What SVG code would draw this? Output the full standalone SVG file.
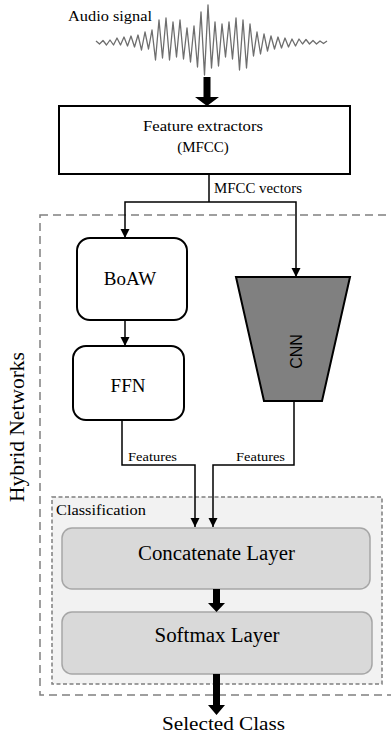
<svg xmlns="http://www.w3.org/2000/svg" width="391" height="735" viewBox="0 0 391 735">
<style>
.serif{font-family:"Liberation Serif","Times New Roman",serif;fill:#000}
.sans{font-family:"Liberation Sans",Arial,sans-serif;fill:#000}
.box{fill:#fff;stroke:#000;stroke-width:2}
.layer{fill:#d9d9d9;stroke:#a6a6a6;stroke-width:1.5}
.conn{fill:none;stroke:#000;stroke-width:1.5}
.thick{fill:#000}
</style>
<defs>
<marker id="ah" viewBox="0 0 10 10" refX="10" refY="5" markerWidth="9" markerHeight="10" markerUnits="userSpaceOnUse" orient="auto">
<path d="M0,0 L10,5 L0,10 z" fill="#000"/>
</marker>
</defs>
<rect width="391" height="735" fill="#fff"/>

<g id="hybrid-networks">
<rect x="40" y="215" width="360" height="480" fill="none" stroke="#808080" stroke-width="1.5" stroke-dasharray="8,5"/>
<text class="serif" font-size="20" transform="translate(24,427) rotate(-90)" text-anchor="middle" textLength="150" lengthAdjust="spacingAndGlyphs">Hybrid Networks</text>
</g>

<g id="audio-signal">
<text class="serif" x="68" y="21" font-size="14" textLength="84" lengthAdjust="spacingAndGlyphs">Audio signal</text>
<polyline fill="none" stroke="#6e6e6e" stroke-width="1.3" stroke-linejoin="round" points="96,41 99.5,44 103,40.5 106.5,45 110,40 113.5,45 117,38 120.5,45 124,37 127.5,46 131,36 134.5,47 138,35 141.5,50 145,32 148.5,49 152,30 155.5,60 159,20 162.5,58 166,18 169.5,60 173,22 176.5,57 180,20 183.5,59 187,28 190.5,62 194,26 197.5,67 201,12 204.5,75 208,5 211.5,68 215,22 218.5,66 222,24 225.5,57 229,22 232.5,59 236,18 239.5,70 243,20 246.5,68 250,24 253.5,56 257,32 260.5,54 264,34 267.5,51 271,36 274.5,49 278,37 281.5,48 285,38 288.5,47 292,39 295.5,46 299,39 302.5,44 306,39.5 309.5,44 313,40.5 316.5,44 320,41 323.5,43.5 327,41"/>
</g>

<g id="feature-extractors">
<rect class="box" x="59" y="106" width="291" height="68"/>
<text class="serif" x="203" y="131" font-size="15" text-anchor="middle" textLength="120" lengthAdjust="spacingAndGlyphs">Feature extractors</text>
<text class="serif" x="203" y="152" font-size="15" text-anchor="middle">(MFCC)</text>
</g>

<g id="boaw">
<rect class="box" x="77" y="238" width="110" height="82" rx="13"/>
<text class="serif" x="130" y="285" font-size="19" text-anchor="middle">BoAW</text>
</g>

<g id="ffn">
<rect class="box" x="73" y="346" width="111" height="74" rx="13"/>
<text class="serif" x="128" y="392" font-size="19" text-anchor="middle">FFN</text>
</g>

<g id="cnn">
<polygon points="236,277 350,277 322,401 264,401" fill="#808080" stroke="#000" stroke-width="2" stroke-linejoin="miter"/>
<text class="sans" font-size="16" transform="translate(302,351.5) rotate(-90)" text-anchor="middle">CNN</text>
</g>

<g id="classification">
<rect x="52" y="497" width="330" height="187" fill="#f2f2f2" stroke="#7f7f7f" stroke-width="1.5" stroke-dasharray="4,2.5"/>
<text class="serif" x="56" y="515" font-size="14" textLength="90" lengthAdjust="spacingAndGlyphs">Classification</text>
</g>

<g id="concatenate-layer">
<rect class="layer" x="62" y="528" width="308" height="61" rx="10"/>
<text class="serif" x="216.5" y="560" font-size="20" text-anchor="middle" textLength="157" lengthAdjust="spacingAndGlyphs">Concatenate Layer</text>
</g>

<g id="softmax-layer">
<rect class="layer" x="62" y="612" width="310" height="62" rx="10"/>
<text class="serif" x="217" y="642" font-size="20" text-anchor="middle" textLength="125" lengthAdjust="spacingAndGlyphs">Softmax Layer</text>
</g>

<g id="selected-class">
<text class="serif" x="223.5" y="730" font-size="19" text-anchor="middle" textLength="123" lengthAdjust="spacingAndGlyphs">Selected Class</text>
</g>

<g id="connectors">
<polygon class="thick" points="203.5,77 210.5,77 210.5,97 219,97 207,106 195,97 203.5,97"/>
<polyline class="conn" points="209,174 209,202"/>
<polyline class="conn" points="209,202 125,202 125,238" marker-end="url(#ah)"/>
<polyline class="conn" points="209,202 296,202 296,277" marker-end="url(#ah)"/>
<text class="serif" x="214" y="193" font-size="15" textLength="88" lengthAdjust="spacingAndGlyphs">MFCC vectors</text>
<polyline class="conn" points="125,320 125,346" marker-end="url(#ah)"/>
<polyline class="conn" points="122,420 122,465 195,465 195,527" marker-end="url(#ah)"/>
<polyline class="conn" points="294,401 294,465 213,465 213,527" marker-end="url(#ah)"/>
<text class="serif" x="128" y="461" font-size="13" textLength="49" lengthAdjust="spacingAndGlyphs">Features</text>
<text class="serif" x="236" y="461" font-size="13" textLength="49" lengthAdjust="spacingAndGlyphs">Features</text>
<polygon class="thick" points="213,589 220,589 220,603 225,603 216.5,612 208,603 213,603"/>
<polygon class="thick" points="213,674 220,674 220,705 225,705 216.5,715 208,705 213,705"/>
</g>
</svg>
